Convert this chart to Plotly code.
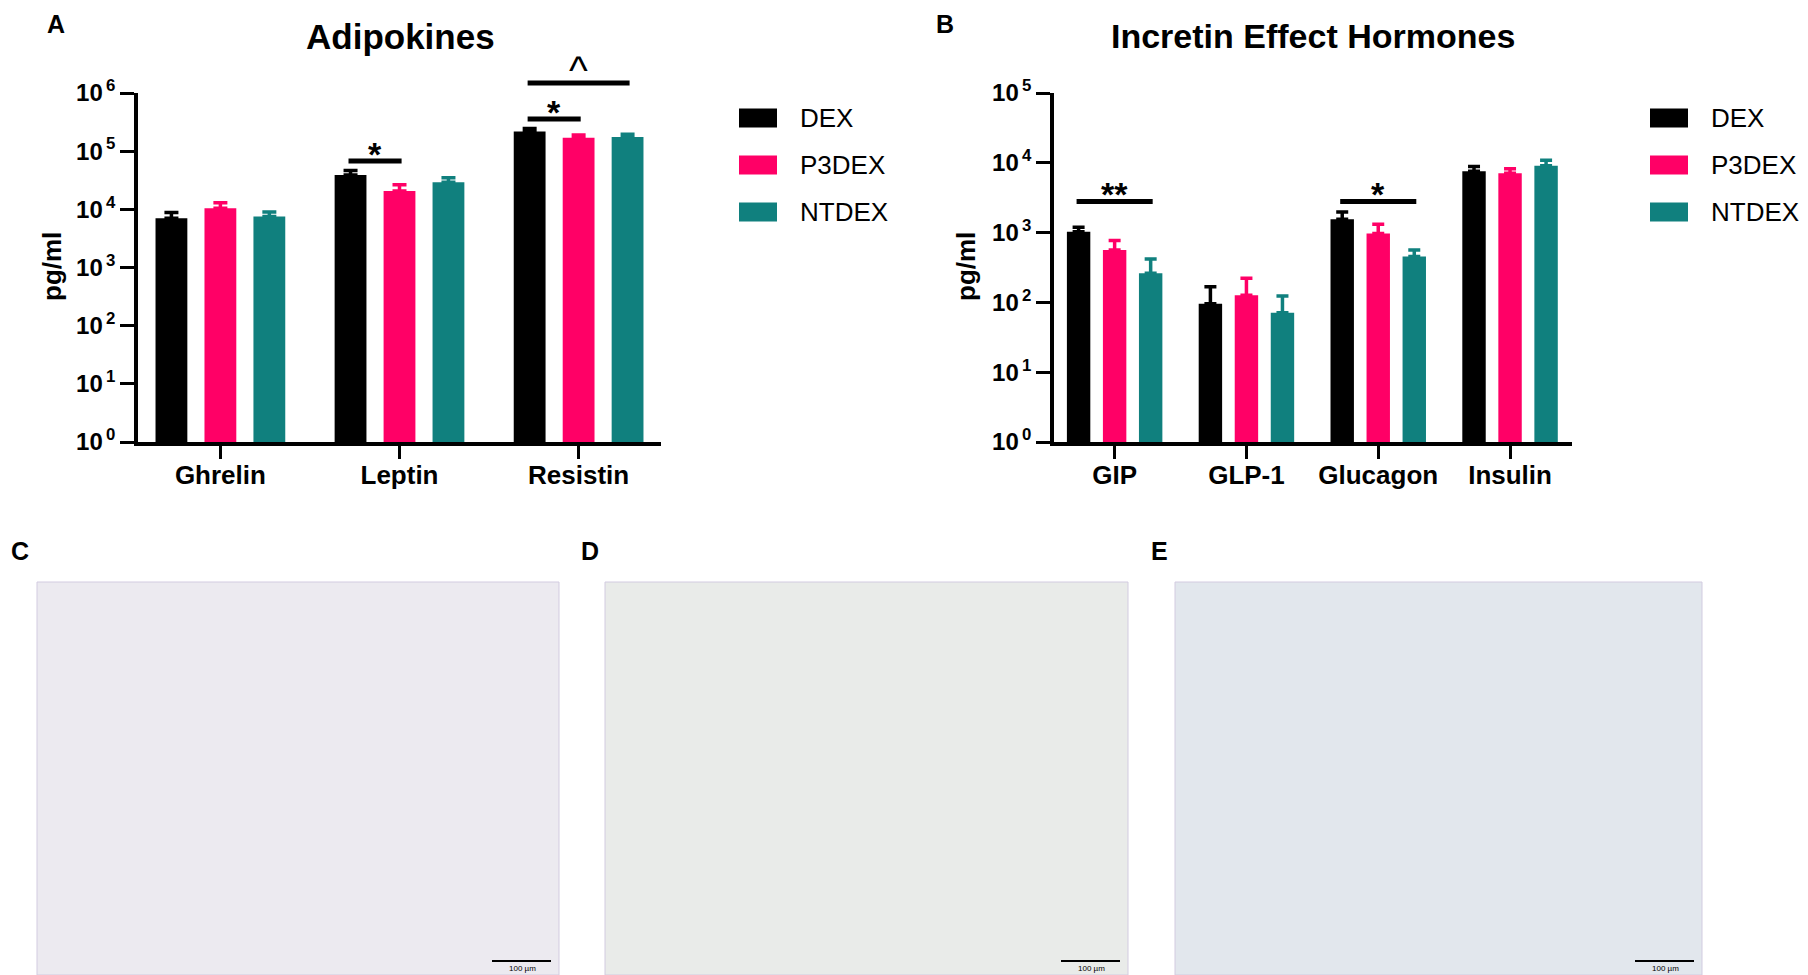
import math
import plotly.graph_objects as go

W, H = 1808, 975
PAD = 8  # default body margin of the html page

groups = ["DEX", "P3DEX", "NTDEX"]
colors = {"DEX": "#000000", "P3DEX": "#ff0066", "NTDEX": "#10807e"}

# panel A - adipokines (pg/ml), mean and upper error
adipo_cats = ["Ghrelin", "Leptin", "Resistin"]
adipo_mean = {
    "DEX": [7000, 39000, 218000],
    "P3DEX": [10400, 20700, 170000],
    "NTDEX": [7500, 29100, 176000],
}
adipo_err = {
    "DEX": [1800, 7700, 27000],
    "P3DEX": [2600, 5800, 20000],
    "NTDEX": [1500, 5900, 20000],
}

# panel B - incretin effect hormones (pg/ml)
incr_cats = ["GIP", "GLP-1", "Glucagon", "Insulin"]
incr_mean = {
    "DEX": [1030, 96, 1550, 7590],
    "P3DEX": [564, 127, 968, 7110],
    "NTDEX": [261, 71, 456, 9060],
}
incr_err = {
    "DEX": [160, 72, 430, 1260],
    "P3DEX": [204, 94, 352, 1090],
    "NTDEX": [158, 52, 108, 1840],
}

# significance bars: (category, from group, to group, height pg/ml, label)
adipo_sig = [(1, 0, 1, 67600, "*"), (2, 0, 1, 357000, "*"), (2, 0, 2, 1.48e6, "^")]
incr_sig = [(0, 0, 2, 2800, "**"), (2, 0, 2, 2800, "*")]

FONT = "Liberation Sans, Arial, sans-serif"
OFF = 0.273  # bar slot width in category units

FW, FH = W - PAD, H - PAD


def px_x(p):
    return (p - PAD) / FW


def px_y(p):
    return 1 - (p - PAD) / FH


fig = go.Figure()

for i, g in enumerate(groups):
    fig.add_trace(go.Bar(
        x=adipo_cats, y=adipo_mean[g], name=g, marker_color=colors[g],
        marker_line_width=0, xaxis="x", yaxis="y", showlegend=False,
        error_y=dict(type="data", array=adipo_err[g], arrayminus=[0] * 3,
                     symmetric=False, color=colors[g], thickness=3.5, width=7),
    ))
    fig.add_trace(go.Bar(
        x=incr_cats, y=incr_mean[g], name=g, marker_color=colors[g],
        marker_line_width=0, xaxis="x2", yaxis="y2", showlegend=False,
        error_y=dict(type="data", array=incr_err[g], arrayminus=[0] * 4,
                     symmetric=False, color=colors[g], thickness=3.5, width=6),
    ))

yticks_a = [10 ** k for k in range(7)]
yticks_b = [10 ** k for k in range(6)]
tickfont = dict(family=FONT, size=24, color="black", weight="bold")
catfont = dict(family=FONT, size=26, color="black", weight="bold")

xr_a = [-0.46, 2.46]
xr_b = [-0.46, 3.47]
ydom = [px_y(442), px_y(93)]

axis_common = dict(showline=True, linecolor="black", linewidth=3.5, ticks="outside",
                   tickwidth=3, tickcolor="black", showgrid=False, zeroline=False,
                   automargin=False)


def sup_labels(n):
    return [f"10<sup>\u2009{k}</sup>" for k in range(n)]


fig.update_layout(
    template="none",
    width=FW, height=FH, margin=dict(l=0, r=0, t=0, b=0),
    paper_bgcolor="white", plot_bgcolor="white",
    barmode="group", bargap=0.18, bargroupgap=0.35,
    xaxis=dict(domain=[px_x(138), px_x(661)], range=xr_a, ticklen=13,
               tickfont=catfont, anchor="y", ticklabelstandoff=-6, **axis_common),
    yaxis=dict(domain=ydom, type="log", range=[0, 6], ticklen=14,
               tickvals=yticks_a, ticktext=sup_labels(7),
               tickfont=tickfont, anchor="x", **axis_common),
    xaxis2=dict(domain=[px_x(1054), px_x(1572)], range=xr_b, ticklen=13,
                tickfont=catfont, anchor="y2", ticklabelstandoff=-6, **axis_common),
    yaxis2=dict(domain=ydom, type="log", range=[0, 5], ticklen=14,
                tickvals=yticks_b, ticktext=sup_labels(6),
                tickfont=tickfont, anchor="x2", **axis_common),
)

shapes = []
annots = []


def add_sig(sigs, xref, yref, xr, ymax):
    for c, g0, g1, yv, lab in sigs:
        x0 = c + (g0 - 1) * OFF
        x1 = c + (g1 - 1) * OFF
        f0 = (x0 - xr[0]) / (xr[1] - xr[0])
        f1 = (x1 - xr[0]) / (xr[1] - xr[0])
        fy = math.log10(yv) / ymax
        shapes.append(dict(type="line", xref=xref + " domain", yref=yref + " domain",
                           x0=f0 - 0.004, x1=f1 + 0.004, y0=fy, y1=fy,
                           line=dict(color="black", width=5)))
        if lab == "^":
            fnt = dict(family=FONT, size=40, color="black")
            shift = -11
        else:
            fnt = dict(family=FONT, size=34, color="black", weight="bold")
            shift = -14
        annots.append(dict(xref=xref + " domain", yref=yref + " domain",
                           x=(f0 + f1) / 2, y=fy, text=lab, showarrow=False,
                           xanchor="center", yanchor="bottom", yshift=shift, font=fnt))


add_sig(adipo_sig, "x", "y", xr_a, 6)
add_sig(incr_sig, "x2", "y2", xr_b, 5)


def label(txt, xp, yp, size, bold=True, angle=0, xanchor="center"):
    fnt = dict(family=FONT, size=size, color="black")
    if bold:
        fnt["weight"] = "bold"
    annots.append(dict(xref="paper", yref="paper", x=px_x(xp), y=px_y(yp), text=txt,
                       showarrow=False, xanchor=xanchor, yanchor="middle",
                       textangle=angle, font=fnt))


# titles, panel letters, axis titles
label("Adipokines", 400, 36, 35)
label("Incretin Effect Hormones", 1313, 36, 34)
for txt, xp, yp in [("A", 56, 24), ("B", 945, 24), ("C", 20, 551), ("D", 590, 551), ("E", 1159, 551)]:
    label(txt, xp, yp, 25)
for xp in [52, 966]:
    label("pg/ml", xp, 267, 26, angle=-90)

# manual legends
for lx in [739, 1650]:
    for i, g in enumerate(groups):
        cy = 118 + 47 * i
        shapes.append(dict(type="rect", xref="paper", yref="paper",
                           x0=px_x(lx), x1=px_x(lx + 38), y0=px_y(cy - 9.5), y1=px_y(cy + 9.5),
                           fillcolor=colors[g], line_width=0))
        label(g, lx + 59, cy, 26, bold=False, xanchor="left")

# histology panels (photographs shown as plain fields)
photos = [(37, 559, "#eceaf0"), (605, 1128, "#e9ebe9"), (1175, 1702, "#e2e7ed")]
for x0, x1, col in photos:
    shapes.append(dict(type="rect", xref="paper", yref="paper", layer="below",
                       x0=px_x(x0), x1=px_x(x1), y0=px_y(975), y1=px_y(582),
                       fillcolor=col, line=dict(color="#d2cbe0", width=1)))
    shapes.append(dict(type="line", xref="paper", yref="paper",
                       x0=px_x(x1 - 67), x1=px_x(x1 - 8), y0=px_y(961), y1=px_y(961),
                       line=dict(color="black", width=2)))
    label("100 µm", x1 - 37, 968, 8, bold=False)

fig.update_layout(shapes=shapes, annotations=annots)
fig.write_html("out.html")
